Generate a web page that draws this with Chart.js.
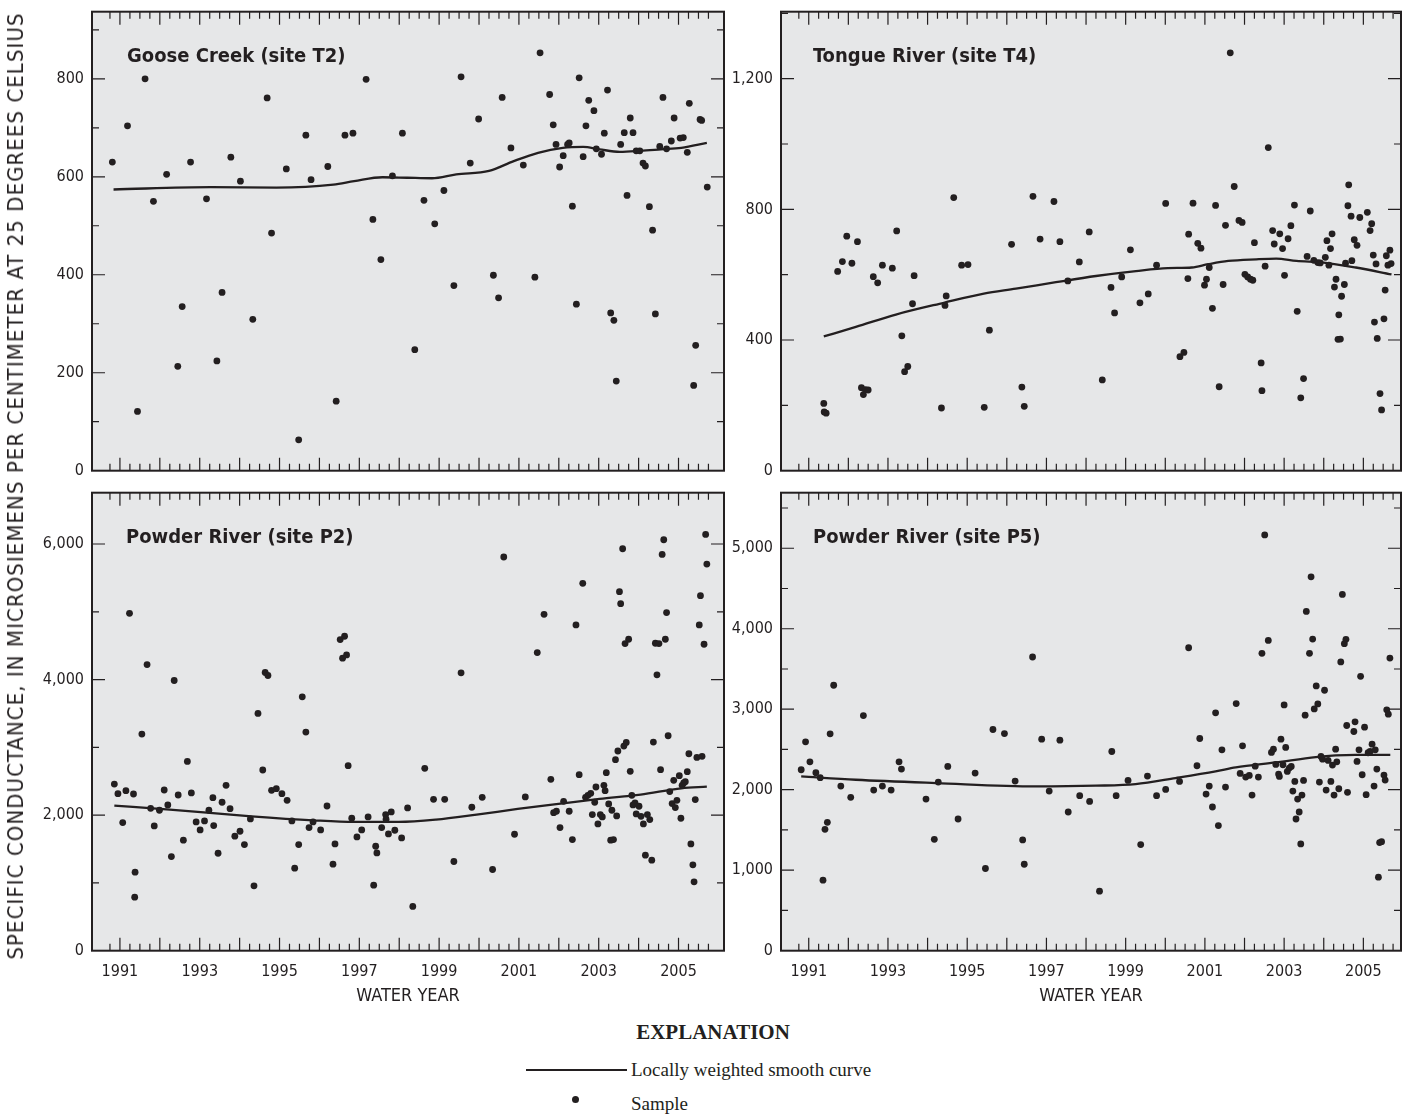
<!DOCTYPE html>
<html>
<head>
<meta charset="utf-8">
<title>Specific conductance, water years 1991-2005</title>
<script src="https://cdn.jsdelivr.net/npm/chart.js@4.4.0/dist/chart.umd.min.js"></script>
<style>
  html, body { margin: 0; padding: 0; background: #fff; }
  body {
    position: relative; width: 1405px; height: 1114px; overflow: hidden;
    color: #231f20;
    font-family: 'DejaVu Sans Condensed', sans-serif;
  }
  canvas { position: absolute; }
  .site { position: absolute; font-weight: bold; font-size: 20px; line-height: 1; white-space: nowrap; }
  #ytitle {
    position: absolute; left: 16px; top: 486px; font-size: 22px; line-height: 1;
    letter-spacing: 1.05px; white-space: nowrap;
    transform: translate(-50%, -50%) rotate(-90deg);
  }
  .legend { position: absolute; font-family: 'Liberation Serif', 'Times New Roman', serif; font-size: 19px; line-height: 1; white-space: nowrap; }
  #legend-head { left: 713px; top: 1022px; font-size: 21px; font-weight: bold; transform: translateX(-50%); }
  #legend-line { position: absolute; left: 526px; top: 1069px; width: 101px; height: 2px; background: #231f20; }
  #legend-dot { position: absolute; left: 572px; top: 1096px; width: 7px; height: 7px; border-radius: 50%; background: #231f20; }
</style>
</head>
<body>
<canvas id="t2" width="745" height="480" style="left:0;top:0"></canvas>
<canvas id="t4" width="705" height="480" style="left:700px;top:0"></canvas>
<canvas id="p2" width="745" height="540" style="left:0;top:480px"></canvas>
<canvas id="p5" width="705" height="540" style="left:700px;top:480px"></canvas>

<div class="site" style="left:127px;top:45px">Goose Creek (site T2)</div>
<div class="site" style="left:813px;top:45px">Tongue River (site T4)</div>
<div class="site" style="left:126px;top:526px">Powder River (site P2)</div>
<div class="site" style="left:813px;top:526px">Powder River (site P5)</div>
<div id="ytitle">SPECIFIC CONDUCTANCE, IN MICROSIEMENS PER CENTIMETER AT 25 DEGREES CELSIUS</div>

<div class="legend" id="legend-head">EXPLANATION</div>
<div id="legend-line"></div>
<div class="legend" style="left:631px;top:1060px">Locally weighted smooth curve</div>
<div id="legend-dot"></div>
<div class="legend" style="left:631px;top:1094px">Sample</div>

<script>
// samples: decimal water year and specific conductance (uS/cm at 25 C)
const t2Year = [1990.81,1991.19,1991.44,1991.63,1991.84,1992.17,1992.45,1992.56,1992.77,1993.17,1993.43,1993.56,1993.78,1994.02,1994.33,1994.69,1994.80,1995.17,1995.48,1995.66,1995.79,1996.21,1996.42,1996.64,1996.84,1997.17,1997.34,1997.54,1997.83,1998.08,1998.39,1998.62,1998.89,1999.12,1999.37,1999.55,1999.78,1999.99,2000.36,2000.49,2000.58,2000.80,2001.11,2001.40,2001.53,2001.77,2001.86,2001.93,2002.02,2002.11,2002.22,2002.26,2002.34,2002.44,2002.51,2002.61,2002.68,2002.75,2002.88,2002.94,2003.07,2003.14,2003.22,2003.30,2003.38,2003.44,2003.55,2003.64,2003.71,2003.79,2003.86,2003.94,2004.03,2004.11,2004.17,2004.27,2004.35,2004.42,2004.53,2004.61,2004.70,2004.82,2004.89,2005.04,2005.12,2005.22,2005.27,2005.38,2005.43,2005.54,2005.58,2005.72];
const t2Value = [630,704,121,800,550,605,213,335,630,555,224,364,640,591,309,761,485,616,63,685,594,621,142,685,689,799,513,431,602,689,247,552,504,572,378,804,628,718,399,353,762,659,624,395,853,768,706,666,620,643,666,669,540,340,802,641,704,756,735,657,646,689,777,322,307,183,666,690,562,720,690,653,653,628,622,539,491,320,662,762,657,673,720,679,680,650,750,174,256,717,715,579];
const t2CurveYear = [1990.84,1993.28,1994.92,1996.35,1996.87,1997.58,1998.20,1998.82,1999.43,2000.25,2000.87,2001.48,2002.10,2002.61,2003.02,2003.53,2004.04,2004.56,2005.07,2005.71];
const t2Curve = [574,579,578,584,591,599,598,597,605,612,632,649,659,661,656,651,653,656,659,669];

const t4Year = [1991.38,1991.39,1991.44,1991.73,1991.85,1991.96,1992.09,1992.23,1992.33,1992.38,1992.43,1992.50,1992.63,1992.74,1992.86,1993.11,1993.22,1993.35,1993.42,1993.50,1993.62,1993.66,1994.35,1994.44,1994.47,1994.66,1994.86,1995.02,1995.43,1995.56,1996.12,1996.38,1996.44,1996.66,1996.84,1997.19,1997.34,1997.54,1997.83,1998.08,1998.41,1998.63,1998.72,1998.90,1999.12,1999.36,1999.57,1999.78,2000.01,2000.37,2000.47,2000.57,2000.59,2000.70,2000.82,2000.90,2000.99,2001.04,2001.11,2001.19,2001.27,2001.36,2001.46,2001.52,2001.64,2001.74,2001.86,2001.94,2002.01,2002.08,2002.15,2002.21,2002.25,2002.42,2002.44,2002.52,2002.60,2002.71,2002.75,2002.89,2002.96,2003.01,2003.10,2003.17,2003.26,2003.33,2003.42,2003.49,2003.58,2003.66,2003.75,2003.85,2003.91,2004.04,2004.08,2004.13,2004.17,2004.21,2004.27,2004.31,2004.36,2004.38,2004.42,2004.45,2004.52,2004.55,2004.61,2004.63,2004.69,2004.71,2004.77,2004.84,2004.91,2005.10,2005.17,2005.21,2005.25,2005.28,2005.32,2005.35,2005.42,2005.46,2005.52,2005.55,2005.58,2005.62,2005.67,2005.70];
const t4Value = [206,180,176,610,640,718,635,701,254,233,248,247,594,575,629,620,734,413,303,319,511,597,192,506,535,836,629,631,194,430,693,256,197,840,709,824,701,581,639,731,278,561,483,593,676,514,541,629,818,349,362,588,724,819,696,681,568,586,622,497,812,257,570,751,1279,870,766,760,601,593,586,583,698,330,245,626,989,735,694,725,680,598,710,750,813,488,223,282,656,795,644,637,636,653,704,629,680,725,562,586,402,477,403,534,570,635,811,875,779,643,707,690,775,791,735,756,660,455,633,405,236,186,465,553,658,629,675,634];
const t4CurveYear = [1991.38,1992.19,1993.20,1994.41,1995.42,1996.23,1997.24,1998.25,1999.26,2000.06,2000.67,2001.08,2001.59,2002.30,2002.80,2003.31,2004.00,2004.81,2005.71];
const t4Curve = [411,440,478,514,542,557,577,596,611,620,622,632,642,647,649,642,637,622,601];

const p2Year = [1990.86,1990.95,1991.07,1991.15,1991.24,1991.34,1991.38,1991.37,1991.55,1991.68,1991.77,1991.86,1991.99,1992.11,1992.20,1992.29,1992.36,1992.46,1992.59,1992.69,1992.79,1992.91,1993.01,1993.12,1993.23,1993.33,1993.35,1993.46,1993.56,1993.66,1993.76,1993.88,1994.01,1994.12,1994.27,1994.36,1994.46,1994.58,1994.64,1994.71,1994.80,1994.92,1995.06,1995.19,1995.31,1995.38,1995.48,1995.57,1995.66,1995.74,1995.84,1996.03,1996.19,1996.34,1996.39,1996.52,1996.63,1996.58,1996.68,1996.72,1996.81,1996.94,1997.06,1997.22,1997.36,1997.41,1997.44,1997.56,1997.66,1997.67,1997.73,1997.80,1997.89,1998.06,1998.21,1998.34,1998.64,1998.86,1999.14,1999.37,1999.55,1999.82,2000.08,2000.34,2000.62,2000.89,2001.16,2001.46,2001.63,2001.80,2001.87,2001.94,2002.03,2002.12,2002.26,2002.34,2002.43,2002.51,2002.60,2002.67,2002.73,2002.80,2002.84,2002.90,2002.93,2002.98,2003.04,2003.09,2003.13,2003.16,2003.19,2003.25,2003.30,2003.33,2003.37,2003.42,2003.45,2003.48,2003.52,2003.55,2003.60,2003.63,2003.66,2003.69,2003.75,2003.79,2003.83,2003.86,2003.91,2003.94,2004.01,2004.06,2004.12,2004.17,2004.22,2004.28,2004.33,2004.37,2004.42,2004.46,2004.51,2004.55,2004.59,2004.63,2004.67,2004.70,2004.74,2004.78,2004.84,2004.88,2004.92,2004.96,2005.02,2005.06,2005.09,2005.13,2005.17,2005.22,2005.26,2005.31,2005.36,2005.39,2005.42,2005.46,2005.52,2005.55,2005.59,2005.64,2005.68,2005.71];
const p2Value = [2459,2317,1890,2361,4978,2312,1159,790,3196,4222,2101,1841,2072,2371,2150,1389,3986,2297,1630,2793,2327,1900,1782,1915,2072,2258,1846,1438,2190,2440,2096,1689,1762,1566,1944,957,3500,2666,4104,4060,2366,2391,2317,2219,1915,1217,1566,3746,3225,1816,1900,1782,2135,1276,1576,4590,4639,4315,4364,2729,1954,1679,1782,1973,967,1541,1443,1816,2008,1939,1723,2047,1777,1664,2106,653,2690,2234,2234,1316,4099,2116,2263,1198,5808,1718,2268,4399,4963,2528,2037,2057,1816,2204,2057,1640,4806,2597,5420,2263,2293,2322,2008,2190,2415,1870,2008,1973,2440,2361,2626,2165,1630,2072,1640,2818,1988,2946,5297,5120,5930,3019,4531,3073,4595,2646,2293,2150,2180,2018,2131,1983,1870,1409,2008,1934,1335,3078,4536,4070,4531,2671,5847,6063,4595,4988,3171,2347,2170,2514,2111,2219,2582,1954,2440,2474,2494,2641,2906,1576,1267,1016,2229,2852,4806,5238,2867,4521,6141,5704];
const p2CurveYear = [1990.86,1992.25,1994.30,1995.84,1996.87,1997.99,1998.92,1999.94,2000.97,2001.99,2003.02,2004.05,2005.07,2005.71];
const p2Curve = [2140,2081,1983,1924,1900,1900,1934,2008,2091,2165,2239,2302,2396,2420];

const p5Year = [1990.81,1990.92,1991.03,1991.18,1991.29,1991.36,1991.41,1991.47,1991.54,1991.63,1991.81,1992.06,1992.38,1992.64,1992.86,1993.08,1993.28,1993.34,1993.96,1994.17,1994.27,1994.51,1994.77,1995.20,1995.46,1995.65,1995.94,1996.21,1996.40,1996.44,1996.65,1996.88,1997.07,1997.34,1997.55,1997.84,1998.09,1998.34,1998.65,1998.76,1999.06,1999.38,1999.55,1999.78,2000.01,2000.36,2000.59,2000.80,2000.87,2001.03,2001.11,2001.19,2001.27,2001.34,2001.43,2001.52,2001.79,2001.89,2001.95,2002.03,2002.12,2002.19,2002.27,2002.35,2002.44,2002.51,2002.60,2002.68,2002.73,2002.79,2002.86,2002.88,2002.92,2002.97,2003.00,2003.04,2003.08,2003.13,2003.18,2003.22,2003.27,2003.30,2003.34,2003.38,2003.42,2003.45,2003.49,2003.53,2003.56,2003.64,2003.68,2003.72,2003.76,2003.81,2003.85,2003.89,2003.93,2003.97,2004.02,2004.06,2004.11,2004.18,2004.22,2004.26,2004.30,2004.33,2004.38,2004.43,2004.47,2004.52,2004.56,2004.58,2004.60,2004.76,2004.79,2004.84,2004.89,2004.93,2004.97,2005.03,2005.07,2005.12,2005.17,2005.22,2005.27,2005.30,2005.34,2005.38,2005.41,2005.46,2005.52,2005.55,2005.59,2005.63,2005.67];
const p5Value = [2248,2595,2347,2211,2149,876,1508,1595,2694,3298,2045,1905,2921,1996,2045,1996,2347,2256,1884,1384,2095,2289,1636,2207,1021,2748,2698,2107,1376,1074,3649,2628,1983,2616,1723,1926,1855,740,2475,1926,2116,1318,2169,1926,2004,2103,3764,2298,2636,1946,2045,1785,2955,1554,2496,2033,3070,2202,2545,2157,2178,1934,2293,2157,3694,5165,3855,2463,2504,2314,2194,2165,2628,2310,3054,2525,2227,2269,2289,1983,2103,1636,1884,1723,1326,1934,2116,2926,4215,3694,4645,3872,3004,3289,3066,2095,2413,2380,3236,1996,2364,2103,2306,1934,2504,2347,2012,3587,4426,3814,3868,2798,1967,2723,2843,2351,2496,3409,2186,2777,1938,2459,2475,2566,2045,2496,2256,913,1343,1355,2182,2120,2992,2938,3636];
const p5CurveYear = [1990.81,1992.19,1994.21,1996.73,1998.25,1999.25,2000.26,2001.27,2001.78,2002.79,2003.80,2004.30,2004.80,2005.68];
const p5Curve = [2165,2124,2083,2041,2050,2070,2145,2227,2277,2339,2405,2426,2434,2434];

// labelled axis values
const yearLabels = [1991, 1993, 1995, 1997, 1999, 2001, 2003, 2005];
const t2Ticks = [0, 200, 400, 600, 800];
const t4Ticks = [0, 400, 800, 1200];
const p2Ticks = [0, 2000, 4000, 6000];
const p5Ticks = [0, 1000, 2000, 3000, 4000, 5000];

const INK = '#231f20';
const PANEL_BG = '#e6e7e8';
const TICK_FONT = "'DejaVu Sans Condensed', sans-serif";

// gray panel fill, inward tick marks on all four sides, and the frame
const frame = {
  id: 'frame',
  beforeDraw(chart) {
    const { ctx, chartArea: a } = chart;
    ctx.save();
    ctx.fillStyle = PANEL_BG;
    ctx.fillRect(a.left, a.top, a.right - a.left, a.bottom - a.top);
    ctx.restore();
  },
  afterDatasetsDraw(chart, args, opts) {
    const { ctx, chartArea: a, scales: { x, y } } = chart;
    ctx.save();
    ctx.strokeStyle = INK;
    ctx.lineWidth = 1.2;
    ctx.beginPath();
    // quarter-year marks, longer at each water year
    for (let k = 1990.75 * 4; k <= 2005.75 * 4; k++) {
      const px = x.getPixelForValue(k / 4);
      const len = k % 4 === 0 ? 13 : 7;
      ctx.moveTo(px, a.bottom); ctx.lineTo(px, a.bottom - len);
      ctx.moveTo(px, a.top); ctx.lineTo(px, a.top + len);
    }
    for (let k = 1; k * opts.minor < y.max; k++) {
      const v = k * opts.minor;
      const py = y.getPixelForValue(v);
      const len = opts.labels.includes(v) ? 13 : 7;
      ctx.moveTo(a.left, py); ctx.lineTo(a.left + len, py);
      ctx.moveTo(a.right, py); ctx.lineTo(a.right - len, py);
    }
    ctx.stroke();
    ctx.lineWidth = 2;
    ctx.strokeRect(a.left, a.top, a.right - a.left, a.bottom - a.top);
    ctx.restore();
  }
};

function makePanel(id, p) {
  const bottomRow = p.bottomRow;
  const samples = p.year.map((yr, i) => ({ x: yr, y: p.value[i] }));
  const curve = p.curveYear.map((yr, i) => ({ x: yr, y: p.curve[i] }));

  return new Chart(document.getElementById(id), {
    type: 'scatter',
    data: {
      datasets: [
        {
          label: 'Locally weighted smooth curve',
          data: curve,
          showLine: true,
          borderColor: INK,
          borderWidth: 2.3,
          pointRadius: 0,
          cubicInterpolationMode: 'monotone',
          order: 2
        },
        {
          label: 'Sample',
          data: samples,
          pointRadius: 3.4,
          pointBorderWidth: 0,
          backgroundColor: INK,
          order: 1
        }
      ]
    },
    options: {
      responsive: false,
      animation: false,
      events: [],
      layout: { padding: p.padding },
      plugins: {
        legend: { display: false },
        tooltip: { enabled: false },
        frame: { labels: p.ticks, minor: p.minor }
      },
      scales: {
        x: {
          type: 'linear',
          min: 1990.30,
          max: p.xMax,
          grid: { display: false, drawTicks: false },
          border: { display: false },
          afterBuildTicks: s => { s.ticks = yearLabels.map(v => ({ value: v })); },
          ticks: {
            display: bottomRow,
            autoSkip: false,
            maxRotation: 0,
            padding: 12,
            color: INK,
            font: { family: TICK_FONT, size: 16 },
            callback: v => String(v)
          },
          title: {
            display: bottomRow,
            text: 'WATER YEAR',
            color: INK,
            padding: 0,
            font: { family: TICK_FONT, size: 18 }
          },
          afterFit: s => {
            s.height = bottomRow ? 56 : 0;
            s.paddingLeft = 0;
            s.paddingRight = 0;
          }
        },
        y: {
          min: 0,
          max: p.yMax,
          grid: { display: false, drawTicks: false },
          border: { display: false },
          afterBuildTicks: s => { s.ticks = p.ticks.map(v => ({ value: v })); },
          ticks: {
            padding: 8,
            color: INK,
            font: { family: TICK_FONT, size: 16 },
            callback: v => v.toLocaleString('en-US')
          },
          afterFit: s => {
            s.width = p.axisWidth;
            s.paddingTop = 0;
            s.paddingBottom = 0;
          }
        }
      }
    },
    plugins: [frame]
  });
}

const topPad = { left: 0, top: 11.7, bottom: 9.3 };
const lowPad = { left: 0, top: 12.7, bottom: 13.3 };

makePanel('t2', {
  year: t2Year, value: t2Value, curveYear: t2CurveYear, curve: t2Curve,
  ticks: t2Ticks, minor: 100, yMax: 937, xMax: 2006.14, axisWidth: 92,
  padding: { ...topPad, right: 21 }, bottomRow: false
});
makePanel('t4', {
  year: t4Year, value: t4Value, curveYear: t4CurveYear, curve: t4Curve,
  ticks: t4Ticks, minor: 200, yMax: 1405, xMax: 2005.95, axisWidth: 81,
  padding: { ...topPad, right: 1 }, bottomRow: false
});
makePanel('p2', {
  year: p2Year, value: p2Value, curveYear: p2CurveYear, curve: p2Curve,
  ticks: p2Ticks, minor: 1000, yMax: 6757, xMax: 2006.14, axisWidth: 92,
  padding: { ...lowPad, right: 21 }, bottomRow: true
});
makePanel('p5', {
  year: p5Year, value: p5Value, curveYear: p5CurveYear, curve: p5Curve,
  ticks: p5Ticks, minor: 500, yMax: 5690, xMax: 2005.95, axisWidth: 81,
  padding: { ...lowPad, right: 1 }, bottomRow: true
});
</script>
</body>
</html>
